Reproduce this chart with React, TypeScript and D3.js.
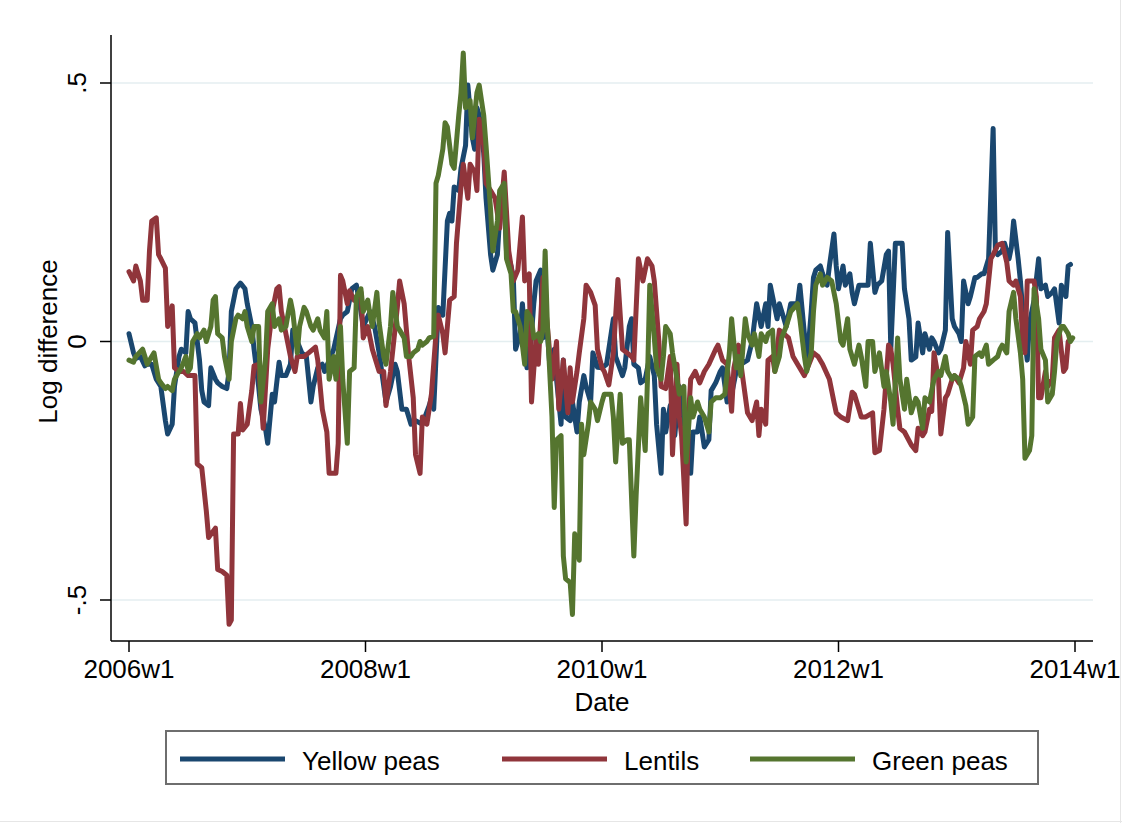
import React from 'react';
import * as d3 from 'd3';

// weekly index: 0 = 2006w1, 52 weeks per year
const yellowPeas: [number, number][] = [
  [0,0.015],[2,-0.022],[3,-0.033],[5,-0.029],[7,-0.047],[8,-0.044],[10,-0.044],[12,-0.073],[14,-0.087],[16,-0.153],[17,-0.179],[19,-0.160],[20,-0.087],[22,-0.029],[23,-0.015],[25,-0.022],[26,0.058],[27,0.044],[29,0.036],[31,-0.036],[32,-0.095],[33,-0.117],[35,-0.124],[36,-0.051],[38,-0.073],[39,-0.080],[41,-0.087],[43,-0.091],[44,-0.058],[45,0.058],[47,0.102],[49,0.113],[51,0.102],[52,0.073],[54,0.029],[55,-0.015],[57,-0.087],[58,-0.131],[60,-0.168],[61,-0.197],[63,-0.102],[64,-0.117],[66,-0.040],[67,-0.066],[69,-0.066],[71,-0.044],[72,0.022],[74,0],[76,-0.022],[78,-0.029],[80,-0.117],[81,-0.087],[83,-0.051],[85,-0.044],[86,-0.058],[90,-0.015],[93,0.044],[94,0.051],[96,0.058],[98,0.102],[100,0.109],[102,0.058],[103,0.029],[106,0.058],[108,0.029],[110,-0.022],[113,-0.117],[115,-0.087],[117,-0.044],[118,-0.058],[120,-0.131],[122,-0.131],[124,-0.160],[126,-0.153],[129,-0.160],[132,-0.124],[133,-0.109],[134,-0.131],[136,0.066],[137,0.058],[138,0.051],[140,0.233],[141,0.248],[142,0.233],[143,0.299],[145,0.292],[146,0.335],[148,0.379],[149,0.496],[151,0.394],[152,0.372],[153,0.452],[154,0.437],[156,0.364],[157,0.277],[159,0.168],[160,0.138],[162,0.168],[163,0.241],[165,0.270],[166,0.175],[168,0.146],[169,0.124],[170,-0.015],[172,0.015],[173,0.073],[175,-0.051],[176,-0.044],[178,0.073],[179,0.117],[181,0.138],[182,0.007],[184,0.015],[185,-0.044],[187,-0.015],[188,-0.073],[190,-0.160],[191,-0.036],[192,-0.146],[194,-0.153],[195,-0.117],[197,-0.175],[198,-0.117],[200,-0.066],[201,-0.087],[203,-0.117],[204,-0.022],[206,-0.050],[208,-0.051],[210,-0.044],[212,0.015],[213,0.044],[214,-0.029],[217,-0.066],[218,-0.051],[220,0.029],[221,0.044],[222,-0.044],[224,-0.051],[225,-0.080],[227,-0.073],[229,-0.029],[231,-0.066],[232,-0.160],[234,-0.255],[235,-0.131],[236,-0.175],[238,-0.124],[240,-0.182],[242,-0.087],[243,-0.102],[244,-0.190],[246,-0.182],[247,-0.255],[248,-0.175],[250,-0.175],[251,-0.146],[253,-0.204],[255,-0.190],[256,-0.095],[258,-0.080],[260,-0.058],[261,-0.051],[263,-0.117],[265,-0.102],[267,-0.058],[269,-0.044],[272,-0.036],[274,0],[276,0.073],[278,0.029],[280,0.073],[281,0.029],[282,0.109],[283,0.087],[285,0.044],[286,0.073],[288,0.044],[289,0.029],[291,0.073],[294,0.073],[295,0.109],[297,0.015],[298,-0.051],[300,0.058],[301,0.124],[302,0.138],[304,0.146],[305,0.131],[307,0.109],[308,0.146],[310,0.208],[311,0.146],[312,0.102],[314,0.146],[315,0.109],[317,0.131],[318,0.095],[319,0.073],[321,0.109],[323,0.109],[325,0.109],[326,0.190],[328,0.095],[329,0.109],[331,0.117],[333,0.168],[334,0.175],[335,-0.015],[337,0.190],[338,0.190],[340,0.190],[341,0.102],[343,0.044],[344,-0.036],[346,-0.030],[347,0.036],[349,-0.022],[350,0.015],[352,-0.015],[353,0.007],[354,0],[356,-0.022],[357,-0.015],[359,0.022],[360,0.211],[362,0.044],[363,0.029],[365,0.015],[366,0],[367,0.117],[369,0.073],[370,0.087],[372,0.124],[373,0.124],[375,0.131],[376,0.131],[378,0.160],[380,0.412],[381,0.175],[382,0.168],[384,0.175],[385,0.190],[387,0.160],[388,0.182],[389,0.233],[391,0.160],[392,0.117],[394,0],[395,-0.036],[396,0.036],[398,0.080],[400,0.160],[401,0.102],[403,0.109],[404,0.087],[406,0.095],[407,0.102],[409,0.036],[410,0.109],[412,0.087],[413,0.146],[414,0.149]
];

const lentils: [number, number][] = [
  [0,0.135],[2,0.117],[3,0.146],[5,0.117],[6,0.080],[8,0.080],[9,0.175],[10,0.233],[12,0.239],[13,0.168],[14,0.160],[16,0.142],[17,0.029],[19,0.069],[20,-0.051],[22,-0.058],[24,-0.058],[26,-0.066],[29,-0.066],[30,-0.237],[32,-0.244],[34,-0.328],[35,-0.379],[38,-0.361],[39,-0.441],[41,-0.445],[43,-0.452],[44,-0.547],[45,-0.539],[46,-0.179],[48,-0.179],[49,-0.120],[50,-0.171],[52,-0.160],[54,-0.095],[55,-0.047],[57,-0.044],[59,-0.168],[61,-0.015],[63,0.058],[65,0.102],[66,0.106],[67,0.058],[69,0.015],[71,-0.029],[73,-0.058],[74,-0.029],[77,-0.029],[79,-0.022],[82,-0.011],[83,-0.036],[85,-0.131],[87,-0.175],[88,-0.255],[91,-0.255],[92,-0.197],[93,0.128],[94,0.117],[96,0.073],[97,0.098],[99,0.080],[102,0.095],[103,0.007],[105,0.029],[107,-0.015],[110,-0.058],[112,-0.058],[113,-0.124],[115,-0.058],[118,0.066],[119,0.117],[121,0.073],[123,-0.029],[125,-0.109],[126,-0.219],[128,-0.255],[129,-0.146],[131,-0.160],[133,-0.102],[135,0.015],[136,0.051],[138,0.015],[139,-0.022],[141,0.080],[143,0.087],[144,0.190],[146,0.299],[147,0.343],[149,0.277],[150,0.343],[152,0.328],[153,0.292],[154,0.430],[156,0.379],[157,0.306],[159,0.292],[161,0.277],[163,0.219],[165,0.328],[167,0.175],[169,0.117],[171,0.138],[173,0.241],[174,0.117],[176,0.131],[177,-0.117],[179,0.007],[180,-0.044],[182,0.124],[184,0.029],[186,-0.073],[188,0],[189,-0.131],[191,-0.036],[193,-0.138],[194,-0.051],[195,-0.117],[197,-0.058],[198,-0.022],[200,0.044],[201,0.109],[203,0.095],[205,0.070],[206,-0.015],[208,-0.051],[209,-0.058],[211,-0.084],[213,-0.022],[215,0.120],[217,-0.015],[219,-0.022],[221,-0.029],[222,-0.036],[224,0.160],[226,0.117],[228,0.160],[230,0.146],[231,0.117],[233,0],[234,-0.087],[236,-0.091],[238,-0.029],[239,-0.219],[241,-0.044],[242,-0.146],[243,-0.182],[245,-0.353],[246,-0.146],[247,-0.073],[249,-0.058],[251,-0.080],[253,-0.058],[255,-0.044],[258,-0.015],[259,-0.007],[261,-0.036],[263,-0.044],[265,-0.135],[266,-0.051],[268,-0.007],[270,-0.073],[272,-0.138],[274,-0.153],[276,-0.117],[277,-0.182],[278,-0.131],[280,-0.160],[281,-0.036],[283,-0.029],[284,-0.058],[286,0.022],[288,0.015],[290,0.007],[292,-0.029],[294,-0.044],[297,-0.066],[299,-0.044],[301,-0.022],[303,-0.029],[305,-0.044],[308,-0.073],[310,-0.117],[311,-0.138],[313,-0.146],[316,-0.153],[318,-0.098],[319,-0.102],[321,-0.131],[322,-0.146],[324,-0.146],[327,-0.138],[328,-0.215],[330,-0.211],[332,-0.131],[334,-0.007],[335,-0.015],[336,-0.044],[338,-0.131],[339,-0.168],[341,-0.175],[344,-0.200],[346,-0.211],[347,-0.168],[349,-0.182],[350,-0.175],[352,-0.131],[353,-0.135],[354,-0.022],[356,-0.073],[357,-0.179],[359,-0.109],[360,-0.102],[362,-0.073],[363,-0.066],[365,-0.080],[367,-0.051],[368,0],[370,-0.044],[371,0.022],[373,0.029],[374,0.044],[376,0.058],[377,0.073],[379,0.160],[380,0.168],[382,0.186],[384,0.190],[386,0.153],[387,0.117],[389,0.109],[390,0.117],[392,0.087],[393,0],[394,-0.022],[395,0.117],[398,0.117],[399,0.087],[400,-0.109],[401,-0.109],[403,-0.058],[404,-0.087],[406,-0.073],[407,0.007],[409,0.022],[411,-0.058],[412,-0.051],[413,0]
];

const greenPeas: [number, number][] = [
  [0,-0.036],[2,-0.040],[3,-0.029],[6,-0.015],[7,-0.029],[8,-0.044],[10,-0.029],[11,-0.022],[13,-0.073],[14,-0.080],[16,-0.091],[17,-0.087],[19,-0.095],[20,-0.073],[22,-0.058],[23,-0.051],[25,-0.029],[26,-0.058],[27,-0.051],[28,0],[30,0.015],[31,0.007],[33,0.022],[34,0],[36,0.029],[37,0.080],[38,0.087],[39,0.015],[41,0.007],[42,-0.029],[44,-0.073],[45,0],[47,0.044],[48,0.051],[50,0.044],[51,0.058],[52,0.029],[54,0],[55,0.029],[57,0.029],[58,-0.117],[60,-0.036],[61,0.058],[63,0.073],[64,0.029],[66,0.044],[67,0.022],[69,0.029],[71,0.080],[72,0.058],[74,-0.022],[75,0.029],[77,0.066],[78,0.058],[80,0.029],[81,0.022],[83,0.044],[84,0.022],[86,0.007],[87,0.058],[88,-0.073],[90,-0.029],[91,-0.073],[93,0.029],[94,-0.073],[96,-0.197],[97,-0.058],[99,-0.051],[100,0.087],[102,0.102],[103,0.058],[105,0.080],[106,0.051],[107,0.029],[109,0.095],[110,0.036],[112,-0.029],[113,-0.044],[115,0.029],[116,0.095],[118,0.029],[119,0.022],[121,0.007],[122,-0.029],[124,-0.029],[125,-0.022],[127,-0.015],[128,0],[129,-0.007],[131,0],[132,0.007],[134,0.010],[135,0.306],[136,0.321],[138,0.372],[139,0.423],[140,0.415],[142,0.343],[143,0.335],[145,0.437],[146,0.481],[147,0.558],[148,0.452],[150,0.466],[151,0.394],[153,0.481],[154,0.496],[156,0.437],[157,0.379],[159,0.255],[160,0.175],[162,0.233],[163,0.292],[165,0.306],[166,0.160],[168,0.131],[169,0.058],[170,0.058],[172,0.029],[174,-0.044],[175,0.058],[177,0.044],[178,0.007],[180,0.015],[181,0],[182,0.022],[183,0.175],[184,0.029],[186,-0.146],[187,-0.321],[188,-0.190],[190,-0.182],[191,-0.415],[192,-0.459],[194,-0.466],[195,-0.528],[196,-0.372],[198,-0.423],[199,-0.160],[200,-0.219],[202,-0.160],[203,-0.117],[205,-0.131],[206,-0.153],[208,-0.117],[209,-0.102],[212,-0.102],[213,-0.146],[214,-0.233],[216,-0.102],[217,-0.197],[219,-0.190],[220,-0.190],[222,-0.415],[223,-0.299],[225,-0.109],[227,-0.211],[228,-0.073],[229,0.109],[231,0.007],[232,-0.051],[234,-0.073],[235,-0.029],[236,0.029],[238,0.015],[239,-0.022],[241,-0.073],[242,-0.102],[244,-0.087],[245,-0.233],[247,-0.109],[248,-0.146],[250,-0.117],[251,-0.131],[253,-0.146],[255,-0.175],[256,-0.117],[258,-0.109],[260,-0.109],[262,-0.102],[264,-0.022],[265,0.044],[267,-0.051],[268,-0.029],[269,-0.066],[271,0.044],[272,0.015],[274,-0.007],[275,0.015],[277,-0.029],[278,0.015],[280,0],[281,0.015],[283,0.022],[284,-0.058],[286,-0.029],[287,0.007],[289,0.029],[291,0.058],[294,0.073],[295,0.044],[297,-0.029],[298,-0.058],[300,-0.022],[301,0.058],[302,0.109],[304,0.131],[305,0.109],[307,0.124],[309,0.117],[311,0.073],[313,0],[314,-0.007],[316,0.044],[317,-0.015],[319,-0.044],[321,-0.007],[322,-0.029],[324,-0.087],[325,0],[327,0],[328,-0.058],[330,-0.022],[332,-0.087],[333,-0.058],[335,-0.117],[336,-0.160],[338,0.007],[339,-0.073],[341,-0.131],[342,-0.073],[344,-0.138],[346,-0.110],[347,-0.117],[349,-0.168],[350,-0.109],[352,-0.117],[353,-0.095],[354,-0.073],[356,-0.058],[357,-0.066],[359,-0.029],[360,-0.058],[362,-0.073],[363,-0.066],[365,-0.073],[366,-0.087],[368,-0.124],[369,-0.160],[371,-0.146],[372,-0.029],[374,-0.022],[375,-0.029],[377,-0.007],[378,-0.044],[380,-0.036],[382,-0.029],[383,-0.015],[384,-0.007],[386,-0.022],[387,0.058],[389,0.095],[390,0.044],[392,-0.022],[393,-0.073],[394,-0.226],[396,-0.211],[397,-0.182],[398,0.102],[400,0.044],[401,-0.015],[403,-0.036],[404,-0.117],[406,-0.102],[407,-0.058],[408,0],[410,0.029],[411,0.029],[413,0.015],[414,0],[415,0.007]
];

const xTickWeeks = [0, 104, 208, 312, 416];
const xTickLabels = ['2006w1', '2008w1', '2010w1', '2012w1', '2014w1'];
const yTickValues = [-0.5, 0, 0.5];
const yTickLabels = ['-.5', '0', '.5'];
const seriesNames = ['Yellow peas', 'Lentils', 'Green peas'];
const seriesColors = ['#1a476f', '#90353b', '#55752f'];

const FONT = '"Liberation Sans", Arial, Helvetica, sans-serif';

export default function App() {
  const width = 1122;
  const height = 823;

  // plot region (axis lines)
  const plotLeft = 111;
  const plotRight = 1093;
  const plotTop = 35;
  const plotBottom = 641;

  const x = d3.scaleLinear().domain([0, 416]).range([129, 1075]);
  const y = d3.scaleLinear().domain([-0.5, 0.5]).range([600, 83]);

  const line = d3.line<[number, number]>()
    .x(d => x(d[0]))
    .y(d => y(d[1]));

  const series = [yellowPeas, lentils, greenPeas];

  // legend layout
  const legend = { x: 166, y: 731, w: 872, h: 53 };
  const legendItemX = [180, 502, 750];

  return (
    <svg
      width={width}
      height={height}
      style={{ position: 'absolute', left: 0, top: 0, background: '#fff' }}
      fontFamily={FONT}
    >
      <rect x={0} y={0} width={width} height={height} fill="#fff" />
      {/* faint page edge */}
      <line x1={1120.5} x2={1120.5} y1={0} y2={height} stroke="#e6e6e6" strokeWidth={1} />
      <line x1={0} x2={width} y1={821.5} y2={821.5} stroke="#e6e6e6" strokeWidth={1} />

      {/* gridlines */}
      {yTickValues.map(v => (
        <line key={'g' + v} x1={plotLeft} x2={plotRight} y1={y(v)} y2={y(v)}
          stroke="#e4eef0" strokeWidth={1.5} />
      ))}

      {/* series */}
      {series.map((s, i) => (
        <path key={seriesNames[i]} d={line(s) || ''} fill="none"
          stroke={seriesColors[i]} strokeWidth={5}
          strokeLinejoin="round" strokeLinecap="round" />
      ))}

      {/* axes */}
      <line x1={plotLeft} x2={plotLeft} y1={plotTop} y2={plotBottom} stroke="#000" strokeWidth={1.5} />
      <line x1={plotLeft} x2={plotRight} y1={plotBottom} y2={plotBottom} stroke="#000" strokeWidth={1.5} />

      {yTickValues.map((v, i) => (
        <g key={'yt' + v}>
          <line x1={plotLeft - 11} x2={plotLeft} y1={y(v)} y2={y(v)} stroke="#000" strokeWidth={1.5} />
          <text transform={`translate(86,${y(v)}) rotate(-90)`} textAnchor="middle"
            fontSize={26} fill="#000">{yTickLabels[i]}</text>
        </g>
      ))}

      {xTickWeeks.map((w, i) => (
        <g key={'xt' + w}>
          <line x1={x(w)} x2={x(w)} y1={plotBottom} y2={plotBottom + 11} stroke="#000" strokeWidth={1.5} />
          <text x={x(w)} y={678} textAnchor="middle" fontSize={26} fill="#000">{xTickLabels[i]}</text>
        </g>
      ))}

      <text x={(plotLeft + plotRight) / 2} y={711} textAnchor="middle" fontSize={26} fill="#000">Date</text>
      <text transform={`translate(57,${y(0)}) rotate(-90)`} textAnchor="middle" fontSize={26} fill="#000">
        Log difference
      </text>

      {/* legend */}
      <rect x={legend.x} y={legend.y} width={legend.w} height={legend.h}
        fill="#fff" stroke="#6e6e6e" strokeWidth={2} />
      {seriesNames.map((name, i) => (
        <g key={'lg' + name}>
          <line x1={legendItemX[i]} x2={legendItemX[i] + 105} y1={legend.y + 28} y2={legend.y + 28}
            stroke={seriesColors[i]} strokeWidth={5} />
          <text x={legendItemX[i] + 122} y={legend.y + 39} fontSize={26} fill="#000">{name}</text>
        </g>
      ))}
    </svg>
  );
}
